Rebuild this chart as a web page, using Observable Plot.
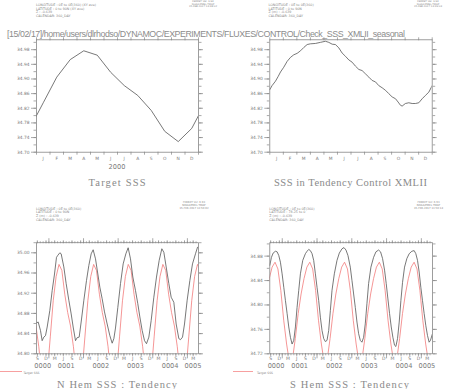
<!DOCTYPE html>
<html><head><meta charset="utf-8">
<script src="https://cdn.jsdelivr.net/npm/d3@7"></script>
<script src="https://cdn.jsdelivr.net/npm/@observablehq/plot@0.6"></script>
<style>
html,body{margin:0;padding:0;background:#fff;}
#wrap{position:relative;width:449px;height:389px;overflow:hidden;background:#fff;}
#wrap svg{position:absolute;left:0;top:0;}
</style></head><body><div id="wrap"></div>
<script>
// ---------- data ----------
const monthLetters = ["J","F","M","A","M","J","J","A","S","O","N","D"];
// Target SSS climatology (N Hem), mid-month values
const targetNH = [34.835, 34.905, 34.953, 34.977, 34.965, 34.918, 34.882, 34.855, 34.814, 34.757, 34.729, 34.765];
// Target SSS climatology (S Hem), mid-month values
const targetSH = [34.775, 34.736, 34.705, 34.710, 34.745, 34.786, 34.818, 34.843, 34.862, 34.870, 34.859, 34.824];

// SSS in Tendency Control XMLII (month of year 0..12)
const ctlMonth = [0.00,0.17,0.42,0.62,0.79,1.03,1.28,1.53,1.77,2.02,2.27,2.51,2.76,3.00,3.37,3.74,4.11,4.36,4.61,4.85,5.10,5.34,5.59,5.84,6.08,6.33,6.58,6.82,7.07,7.32,7.56,7.81,8.05,8.30,8.55,8.79,9.04,9.29,9.48,9.66,9.78,10.02,10.27,10.52,10.76,11.01,11.26,11.50,11.75,12.00];
const ctlSSS = [34.871,34.882,34.894,34.907,34.919,34.932,34.948,34.959,34.966,34.970,34.977,34.986,34.994,34.996,34.997,35.000,35.003,35.000,34.995,34.994,34.985,34.971,34.962,34.952,34.946,34.935,34.926,34.923,34.914,34.905,34.896,34.892,34.882,34.876,34.869,34.860,34.851,34.846,34.837,34.828,34.826,34.833,34.835,34.833,34.833,34.835,34.846,34.855,34.864,34.882];

// N Hem SSS : Tendency (months since Jan of year 0000)
const nhMonth = [7.70,8.28,9.09,9.66,10.24,10.82,11.40,12.32,13.13,13.94,14.63,15.09,15.79,16.25,17.17,17.98,18.91,19.72,20.41,21.22,21.80,22.49,23.18,24.11,25.03,25.84,26.65,27.34,28.15,28.96,29.65,30.46,31.27,32.19,33.12,33.93,34.51,35.08,35.89,36.82,37.74,38.67,39.47,40.28,41.09,42.02,42.82,43.52,44.33,45.14,45.83,46.64,47.45,48.37,49.29,50.22,51.14,51.84,52.65,53.57,54.38,55.30,56.11,57.04,57.61,58.31,59.00,59.92,60.85,61.77,62.81,63.51];
const nhTend = [34.861,34.863,34.846,34.826,34.833,34.836,34.853,34.886,34.925,34.958,34.991,34.995,35.000,34.998,34.972,34.939,34.906,34.879,34.853,34.826,34.832,34.833,34.863,34.906,34.945,34.975,34.998,35.006,34.988,34.958,34.932,34.909,34.883,34.859,34.836,34.821,34.830,34.851,34.892,34.939,34.978,34.998,35.010,34.988,34.952,34.925,34.899,34.873,34.846,34.826,34.820,34.833,34.866,34.912,34.952,34.985,35.008,35.001,34.972,34.939,34.912,34.902,34.859,34.830,34.828,34.833,34.859,34.906,34.945,34.978,34.998,35.011];

// S Hem SSS : Tendency
const shMonth = [7.70,8.27,8.85,9.65,10.23,10.80,11.37,11.95,12.52,13.10,13.67,14.24,14.82,15.39,15.97,16.54,17.11,17.69,18.26,19.07,19.98,20.56,21.13,21.71,22.28,22.85,23.43,24.00,24.58,25.15,25.73,26.30,26.87,27.45,28.02,28.60,29.17,29.97,30.89,31.69,32.61,33.30,33.99,34.68,35.48,36.06,36.63,37.21,37.78,38.35,38.93,39.50,40.08,40.65,41.22,41.80,42.60,43.52,44.32,45.24,45.93,46.62,47.31,47.88,48.46,49.03,49.61,50.18,50.75,51.21,51.79,52.36,52.94,53.51,54.20,55.00,55.81,56.72,57.53,58.10,58.68,59.25,59.82,60.40,60.97,61.55,62.12,62.69,63.15,63.84];
const shTend = [34.865,34.878,34.885,34.888,34.887,34.881,34.870,34.851,34.829,34.807,34.786,34.764,34.747,34.736,34.742,34.764,34.796,34.824,34.851,34.873,34.884,34.888,34.891,34.889,34.884,34.873,34.851,34.829,34.807,34.780,34.758,34.745,34.740,34.742,34.758,34.791,34.824,34.851,34.873,34.885,34.892,34.894,34.890,34.881,34.862,34.840,34.818,34.796,34.772,34.753,34.742,34.739,34.747,34.769,34.802,34.835,34.862,34.878,34.887,34.890,34.887,34.876,34.857,34.835,34.810,34.786,34.764,34.747,34.734,34.732,34.745,34.772,34.807,34.837,34.862,34.876,34.884,34.888,34.889,34.884,34.873,34.854,34.829,34.807,34.786,34.766,34.750,34.739,34.742,34.753];

const yearLabels = ["0000","0001","0002","0003","0004","0005"];
const yTicksTop = [34.70,34.74,34.78,34.82,34.86,34.90,34.94,34.98];
const yTicksNH = [34.80,34.84,34.88,34.92,34.96,35.00];
const yTicksSH = [34.72,34.76,34.80,34.84,34.88];

const headerPath = "[15/02/17]/home/users/dlrhodso/DYNAMOC/EXPERIMENTS/FLUXES/CONTROL/Check_SSS_XMLII_seasonal";
const infoTL = ["LONGITUDE : 0E to 0E(360) (XY ave)","LATITUDE : 0 to 90N (XY ave)","Z : -0.639","CALENDAR: 360_DAY"];
const infoTR = ["LONGITUDE : 0E to 0E(360)","LATITUDE : 0 to 90N","Z (m) : -0.639","CALENDAR: 360_DAY"];
const infoBL = ["LONGITUDE : 0E to 0E(360)","LATITUDE : 0 to 90N","Z (m) : -0.639","CALENDAR: 360_DAY"];
const infoBR = ["LONGITUDE : 0E to 0E(360)","LATITUDE : 78.25 to 0","Z (m) : -0.639","CALENDAR: 360_DAY"];
const ferretTL = ["FERRET Ver. 6.93","NOAA/PMEL TMAP","15-FEB-2017 13:48:02"];
const ferretTR = ["FERRET Ver. 6.93","NOAA/PMEL TMAP","15-FEB-2017 13:49:03"];
const ferretBL = ["FERRET Ver. 6.93","NOAA/PMEL TMAP","15-FEB-2017 13:50:02"];
const ferretBR = ["FERRET Ver. 6.93","NOAA/PMEL TMAP","15-FEB-2017 13:50:14"];
const titles = ["Target SSS","SSS in Tendency Control XMLII","N Hem SSS : Tendency","S Hem SSS : Tendency"];
const legendLabel = "Target SSS";

// ---------- build ----------
const W = 449, H = 389;
const AX = "#858585", TX = "#7a7a7a";
const BLACK = "#555555", RED = "#f37b7b";
const wrap = d3.select("#wrap");

const zipXY = (xs, ys) => xs.map((m, i) => ({m, v: ys[i]})).filter(d => d.v != null);
const tileClim = (clim, y0, y1) => {
  const out = [];
  for (let y = y0; y <= y1; y++) clim.forEach((v, i) => out.push({m: 12 * y + i + 0.5, v}));
  return out;
};
const minorOf = (lo, hi) => d3.range(Math.round(lo * 100), Math.round(hi * 100) + 1, 2).map(d => d / 100);

function panel({frame: [L, T, R, B], xDomain, yDomain, yMajor, marks}) {
  const yMinor = minorOf(yDomain[0], yDomain[1]);
  const svg = Plot.plot({
    width: W, height: H,
    marginLeft: L, marginTop: T, marginRight: W - R, marginBottom: H - B,
    x: {domain: xDomain, label: null},
    y: {domain: yDomain, label: null},
    style: {background: "transparent", color: TX, fontFamily: "DejaVu Sans", overflow: "visible"},
    marks: [
      Plot.axisY({ticks: yMinor, anchor: "left", tickSize: 2.5, tickFormat: () => "", stroke: AX, strokeWidth: 0.7, label: null}),
      Plot.axisY({ticks: yMajor, anchor: "left", tickSize: 5, tickPadding: 2, tickFormat: d3.format(".2f"), stroke: AX, strokeWidth: 0.7, fontSize: 4.4, label: null}),
      Plot.axisY({ticks: yMinor, anchor: "right", tickSize: 2.5, tickFormat: () => "", stroke: AX, strokeWidth: 0.7, label: null}),
      Plot.axisY({ticks: yMajor, anchor: "right", tickSize: 4, tickFormat: () => "", stroke: AX, strokeWidth: 0.7, label: null}),
      ...marks,
      Plot.frame({stroke: AX, strokeWidth: 0.8})
    ]
  });
  wrap.append(() => svg);
}

// Top-left: Target SSS
panel({
  frame: [36, 39.3, 198, 151.7], xDomain: [0, 12], yDomain: [34.70, 35.007], yMajor: yTicksTop,
  marks: [
    Plot.axisX({ticks: d3.range(0, 13), anchor: "bottom", tickSize: 3, tickFormat: () => "", stroke: AX, strokeWidth: 0.7, label: null}),
    Plot.axisX({ticks: d3.range(0, 13), anchor: "top", tickSize: 3, tickFormat: () => "", stroke: AX, strokeWidth: 0.7, label: null}),
    Plot.axisX({ticks: d3.range(0, 12).map(i => i + 0.5), anchor: "bottom", tickSize: 0, tickPadding: 5, tickFormat: d => monthLetters[Math.floor(d)], fontSize: 4.4, label: null}),
    Plot.line(tileClim(targetNH, -1, 1), {x: "m", y: "v", stroke: BLACK, strokeWidth: 0.8, clip: true})
  ]
});

// Top-right: SSS in Tendency Control XMLII
panel({
  frame: [269.3, 39.3, 431.7, 151.7], xDomain: [0, 12], yDomain: [34.70, 35.007], yMajor: yTicksTop,
  marks: [
    Plot.axisX({ticks: d3.range(0, 13), anchor: "bottom", tickSize: 3, tickFormat: () => "", stroke: AX, strokeWidth: 0.7, label: null}),
    Plot.axisX({ticks: d3.range(0, 13), anchor: "top", tickSize: 3, tickFormat: () => "", stroke: AX, strokeWidth: 0.7, label: null}),
    Plot.axisX({ticks: d3.range(0, 12).map(i => i + 0.5), anchor: "bottom", tickSize: 0, tickPadding: 5, tickFormat: d => monthLetters[Math.floor(d)], fontSize: 4.4, label: null}),
    Plot.line(zipXY(ctlMonth, ctlSSS), {x: "m", y: "v", stroke: BLACK, strokeWidth: 0.8, clip: true})
  ]
});

// Bottom time axis helpers
const tDomain = [7.7, 63.85];
function timeAxisMarks() {
  const months = d3.range(Math.ceil(tDomain[0]), Math.floor(tDomain[1]) + 1);
  const quarters = months.filter(m => m % 3 === 2);
  const years = months.filter(m => m % 12 === 0);
  const yearCenters = yearLabels.map((lab, y) => ({lab, m: (Math.max(12 * y, tDomain[0]) + Math.min(12 * y + 12, tDomain[1])) / 2}));
  const out = [];
  for (const anchor of ["bottom", "top"]) {
    out.push(Plot.axisX({ticks: months, anchor, tickSize: 2, tickFormat: () => "", stroke: AX, strokeWidth: 0.6, label: null}));
    out.push(Plot.axisX({ticks: quarters, anchor, tickSize: 3, tickFormat: () => "", stroke: AX, strokeWidth: 0.6, label: null}));
    out.push(Plot.axisX({ticks: years, anchor, tickSize: 5, tickFormat: () => "", stroke: AX, strokeWidth: 0.7, label: null}));
  }
  out.push(Plot.axisX({ticks: quarters, anchor: "bottom", tickSize: 0, tickPadding: 3.3, tickFormat: d => monthLetters[d % 12], fontSize: 4.6, label: null}));
  out.push(Plot.text(yearCenters, {x: "m", text: "lab", frameAnchor: "bottom", dy: 14.2, fontSize: 6.6, fill: TX}));
  return out;
}

// Bottom-left: N Hem
panel({
  frame: [36, 242.2, 198, 353.3], xDomain: tDomain, yDomain: [34.80, 35.02], yMajor: yTicksNH,
  marks: [
    ...timeAxisMarks(),
    Plot.line(tileClim(targetNH, 0, 5), {x: "m", y: "v", stroke: RED, strokeWidth: 0.8, clip: true}),
    Plot.line(zipXY(nhMonth, nhTend), {x: "m", y: "v", stroke: BLACK, strokeWidth: 0.8, clip: true})
  ]
});

// Bottom-right: S Hem
panel({
  frame: [269.3, 242.2, 432, 353.3], xDomain: tDomain, yDomain: [34.72, 34.902], yMajor: yTicksSH,
  marks: [
    ...timeAxisMarks(),
    Plot.line(tileClim(targetSH, 0, 5), {x: "m", y: "v", stroke: RED, strokeWidth: 0.8, clip: true}),
    Plot.line(zipXY(shMonth, shTend), {x: "m", y: "v", stroke: BLACK, strokeWidth: 0.8, clip: true})
  ]
});

// ---------- annotation overlay ----------
const ov = wrap.append("svg").attr("width", W).attr("height", H)
  .style("font-family", "'DejaVu Sans', sans-serif").style("pointer-events", "none");

ov.append("text").attr("x", 7).attr("y", 37.3).attr("font-family", "'Liberation Sans', sans-serif")
  .attr("font-size", 8.8).attr("fill", "#8c8c8c")
  .attr("textLength", 398).attr("lengthAdjust", "spacing").text(headerPath);

function info(lines, x, y0, step, size, anchor) {
  lines.forEach((t, i) => ov.append("text").attr("x", x).attr("y", y0 + i * step)
    .attr("font-size", size).attr("fill", "#888").attr("text-anchor", anchor).text(t));
}
info(infoTL, 36, 6.4, 3.5, 3.3, "start");
info(infoTR, 268.5, 6.4, 3.5, 3.3, "start");
info(infoBL, 36, 209.5, 3.7, 3.3, "start");
info(infoBR, 269.3, 209.5, 3.7, 3.3, "start");
info(ferretTL, 203, 2.4, 2.5, 2.5, "middle");
info(ferretTR, 428, 2.4, 2.5, 2.5, "middle");
info(ferretBL, 194, 203.3, 3.0, 2.6, "middle");
info(ferretBR, 428.5, 203.3, 3.0, 2.6, "middle");

const titlePos = [[117, 185.6, 57], [350.5, 185.6, 153], [117, 388, 120], [349.5, 388, 119]];
titles.forEach((t, i) => {
  const [x, y, len] = titlePos[i];
  ov.append("text").attr("x", x).attr("y", y).attr("text-anchor", "middle")
    .attr("font-family", "'Liberation Serif', serif").attr("font-size", 10.5).attr("fill", "#8a8a8a")
    .attr("textLength", len).attr("lengthAdjust", "spacing").text(t);
});

ov.append("text").attr("x", 117).attr("y", 168.6).attr("text-anchor", "middle")
  .attr("font-size", 6.6).attr("fill", TX).text("2000");

// legends (placed just under the year labels)
[[0, 22, 23.5], [233, 253, 257]].forEach(([x1, x2, tx]) => {
  ov.append("line").attr("x1", x1).attr("x2", x2).attr("y1", 371.5).attr("y2", 371.5)
    .attr("stroke", "#f7a0a0").attr("stroke-width", 1);
  ov.append("text").attr("x", tx).attr("y", 374.2).attr("font-size", 3).attr("fill", "#888").text(legendLabel);
});
</script></body></html>
